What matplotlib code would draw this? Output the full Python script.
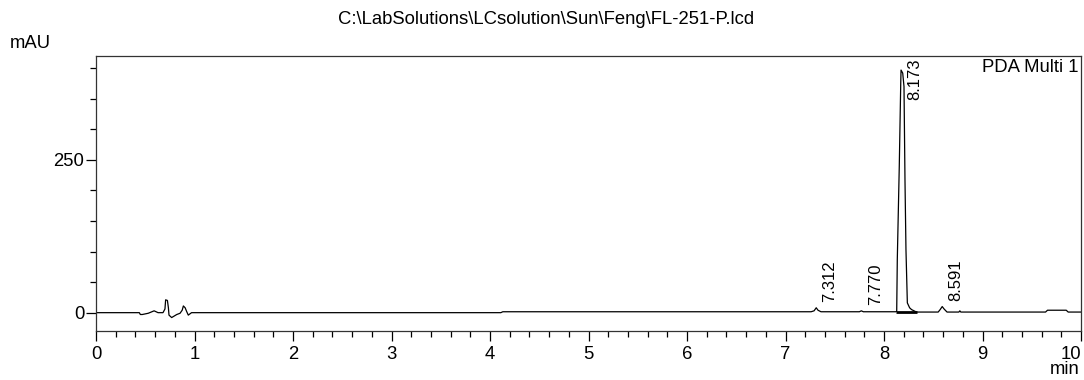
import matplotlib.pyplot as plt
from matplotlib.ticker import MultipleLocator, FuncFormatter

plt.rcParams['font.family'] = ['Liberation Sans', 'DejaVu Sans']

# chromatogram trace (min, mAU)
time_min = [0.00, 0.44, 0.45, 0.47, 0.53, 0.59, 0.63, 0.68, 0.70, 0.707, 0.725, 0.735,
            0.741, 0.768, 0.82, 0.853, 0.875, 0.887, 0.905, 0.92, 0.937, 0.97, 4.11,
            4.13, 7.26, 7.29, 7.312, 7.33, 7.36, 7.75, 7.77, 7.79, 8.12, 8.129, 8.135,
            8.155, 8.170, 8.173, 8.19, 8.203, 8.213, 8.223, 8.237, 8.26, 8.28, 8.33,
            8.55, 8.57, 8.591, 8.61, 8.64, 8.76, 8.77, 8.78, 9.64, 9.66, 9.85, 9.87, 10.0]
signal_mau = [0.0, 0.0, -3.0, -3.0, -1.0, 3.0, 0.0, 0.0, 6.0, 21.0, 20.0, 8.0,
              -4.0, -8.0, -3.0, -1.0, 4.0, 11.0, 8.0, 2.0, -4.0, 0.0, 0.0,
              1.5, 1.5, 3.0, 8.0, 4.0, 1.5, 1.5, 3.0, 1.5, 1.5, 2.0, 87.0,
              239.0, 376.0, 397.0, 392.0, 370.0, 217.0, 103.0, 16.0, 8.0, 5.0, 1.0,
              1.0, 5.0, 10.0, 6.0, 1.0, 1.0, 3.0, 1.0, 1.0, 4.0, 4.0, 1.0, 1.0]

peak_times = [7.312, 7.770, 8.173, 8.591]
peak_heights = [8.0, 3.0, 397.0, 10.0]

fig = plt.figure(figsize=(10.84, 3.8), dpi=100)
ax = fig.add_axes([96 / 1084, 1 - 331 / 380, 985 / 1084, 275 / 380])

ax.plot(time_min, signal_mau, color='black', lw=0.9)
# integration baseline under the main peak
ax.plot([8.12, 8.34], [0.5, 0.5], color='black', lw=2.0, solid_capstyle='butt')

ax.set_xlim(0, 10)
ax.set_ylim(-30, 420)
ax.xaxis.set_major_locator(MultipleLocator(1))
ax.xaxis.set_minor_locator(MultipleLocator(0.2))
ax.yaxis.set_major_locator(MultipleLocator(250))
ax.yaxis.set_minor_locator(MultipleLocator(50))
# "10" is drawn separately so it sits flush against the right edge
ax.xaxis.set_major_formatter(FuncFormatter(lambda v, p: '' if v >= 10 else '%d' % v))
ax.tick_params(which='major', direction='out', length=7.5, width=0.9, labelsize=13.3)
ax.tick_params(which='minor', direction='out', length=4, width=0.9)
ax.tick_params(axis='y', pad=1)
ax.tick_params(axis='x', pad=3)
for s in ax.spines.values():
    s.set_linewidth(0.9)
    s.set_color('#333333')

ax.annotate('10', (10, 0), xycoords=ax.get_xaxis_transform(), xytext=(0, -10.5),
            textcoords='offset points', ha='right', va='top', fontsize=13.3,
            annotation_clip=False)

for t, h in zip(peak_times, peak_heights):
    label = '%.3f' % t
    if h > 300:
        ax.annotate(label, (t, 420), xytext=(10, -2), textcoords='offset points',
                    rotation=90, ha='center', va='top', fontsize=12)
    else:
        ax.annotate(label, (t, h), xytext=(10, 4), textcoords='offset points',
                    rotation=90, ha='center', va='bottom', fontsize=12)

fig.text(546 / 1084, 1 - 20 / 380, r'C:\LabSolutions\LCsolution\Sun\Feng\FL-251-P.lcd',
         ha='center', va='center', fontsize=13.3)
fig.text(10 / 1084, 1 - 44 / 380, 'mAU', ha='left', va='center', fontsize=13.3)
fig.text(1080 / 1084, 1 - 370 / 380, 'min', ha='right', va='center', fontsize=13.3)
fig.text(1079 / 1084, 1 - 68 / 380, 'PDA Multi 1', ha='right', va='center', fontsize=13.3)

fig.savefig('out.png', dpi=100)
